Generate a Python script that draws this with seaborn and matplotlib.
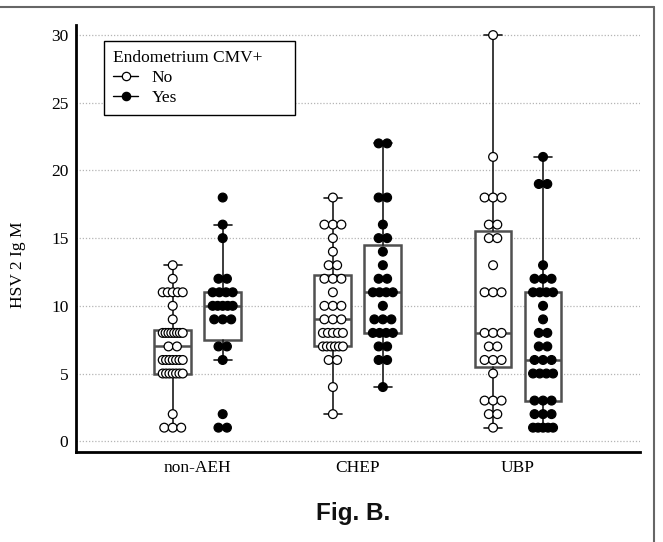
import numpy as np
import pandas as pd
import matplotlib.pyplot as plt
import seaborn as sns
from matplotlib.lines import Line2D

# ==========================================
# 1. Data (one value per dot)
# ==========================================
groups = ['non-AEH', 'CHEP', 'UBP']
cmv_levels = ['No', 'Yes']

nonaeh_no = [1, 1, 1, 2, 5, 5, 5, 5, 5, 5, 5, 6, 6, 6, 6, 6, 6, 6, 7, 7,
             8, 8, 8, 8, 8, 8, 8, 8, 9, 10, 11, 11, 11, 11, 11, 12, 13]
nonaeh_yes = [1, 1, 2, 6, 7, 7, 9, 9, 9, 10, 10, 10, 10, 10, 11, 11, 11, 11,
              12, 12, 15, 16, 18]
chep_no = [2, 4, 6, 6, 7, 7, 7, 7, 7, 7, 8, 8, 8, 8, 8, 9, 9, 9, 10, 10, 10,
           11, 12, 12, 12, 13, 13, 14, 15, 16, 16, 16, 18]
chep_yes = [4, 6, 6, 7, 7, 8, 8, 8, 8, 9, 9, 9, 10, 11, 11, 11, 11, 12, 12,
            13, 14, 15, 15, 16, 18, 18, 22, 22]
ubp_no = [1, 2, 2, 3, 3, 3, 5, 6, 6, 6, 7, 7, 8, 8, 8, 11, 11, 11, 13, 15, 15,
          16, 16, 18, 18, 18, 21, 30]
ubp_yes = [1, 1, 1, 1, 1, 2, 2, 2, 3, 3, 3, 5, 5, 5, 5, 6, 6, 6, 7, 7, 8, 8,
           9, 10, 11, 11, 11, 11, 12, 12, 12, 13, 19, 19, 21]

series = {
    ('non-AEH', 'No'): nonaeh_no, ('non-AEH', 'Yes'): nonaeh_yes,
    ('CHEP', 'No'): chep_no, ('CHEP', 'Yes'): chep_yes,
    ('UBP', 'No'): ubp_no, ('UBP', 'Yes'): ubp_yes,
}

rows = []
for (g, c), vals in series.items():
    for v in vals:
        rows.append({'group': g, 'cmv': c, 'value': v})
df = pd.DataFrame(rows)

# ==========================================
# 2. Layout settings
# ==========================================
hue_offset = {'No': -0.156, 'Yes': 0.156}
box_width = 0.23
dot_step = 0.053      # one dot diameter in x units
row_span = 0.125      # max spread of dots sharing a value

df['base'] = df['group'].map({g: i for i, g in enumerate(groups)}) + df['cmv'].map(hue_offset)
df['k'] = df.groupby(['group', 'cmv', 'value']).cumcount()
df['n'] = df.groupby(['group', 'cmv', 'value'])['value'].transform('size')

def dot_shift(k, n):
    if n < 2:
        return 0.0
    step = min(dot_step, row_span / (n - 1))
    return (k - (n - 1) / 2) * step

df['pos'] = df['base'] + [dot_shift(k, n) for k, n in zip(df['k'], df['n'])]

# quartiles like MedCalc (Hazen), Tukey whiskers
def box_stats(vals):
    v = np.asarray(vals, dtype=float)
    q1, med, q3 = np.percentile(v, [25, 50, 75], method='hazen')
    iqr = q3 - q1
    lo = v[v >= q1 - 1.5 * iqr].min()
    hi = v[v <= q3 + 1.5 * iqr].max()
    return {'med': med, 'q1': q1, 'q3': q3, 'whislo': lo, 'whishi': hi, 'fliers': []}

stats, positions = [], []
for i, g in enumerate(groups):
    for c in cmv_levels:
        stats.append(box_stats(series[(g, c)]))
        positions.append(i + hue_offset[c])

# ==========================================
# 3. Plot
# ==========================================
sns.set_style('white')
plt.rcParams['font.family'] = ['Liberation Serif', 'DejaVu Serif']
plt.rcParams.update({'text.color': 'black', 'axes.labelcolor': 'black',
                     'xtick.color': 'black', 'ytick.color': 'black'})

fig = plt.figure(figsize=(6.63, 5.42), dpi=100)
ax = fig.add_axes([0.1146, 0.166, 0.8504, 0.788])

ax.bxp(stats, positions=positions, widths=box_width, capwidths=0.11,
       patch_artist=True, showfliers=False,
       boxprops=dict(facecolor='white', edgecolor='#505050', linewidth=1.8),
       medianprops=dict(color='#505050', linewidth=1.8),
       whiskerprops=dict(color='#1a1a1a', linewidth=1.2),
       capprops=dict(color='#1a1a1a', linewidth=1.2),
       zorder=2)

sns.scatterplot(data=df, x='pos', y='value', hue='cmv', hue_order=cmv_levels,
                palette={'No': 'white', 'Yes': 'black'}, edgecolor='black',
                linewidth=0.9, s=40, legend=False, zorder=4, ax=ax)

ax.set_xlim(-0.76, 2.76)
ax.set_ylim(-0.8, 30.75)
ax.set_xticks(range(len(groups)))
ax.set_xticklabels(groups)
ax.set_yticks(range(0, 31, 5))
ax.set_xlabel('')
ax.set_ylabel('HSV 2 Ig M', fontsize=12.5)
ax.yaxis.set_label_coords(-0.088, 0.438)

ax.grid(axis='y', color='#b5b5b5', linestyle=(0, (1, 1.5)), linewidth=0.9)
ax.set_axisbelow(True)

for s in ['top', 'right']:
    ax.spines[s].set_visible(False)
for s in ['left', 'bottom']:
    ax.spines[s].set_linewidth(2.0)
    ax.spines[s].set_color('black')

ax.tick_params(axis='y', direction='in', length=6, width=1.6, pad=5.5, labelsize=12.5)
ax.tick_params(axis='x', direction='in', length=7, width=1.6, pad=6, labelsize=12.5)

handles = [Line2D([0], [0], color='black', lw=1, marker='o', markersize=6,
                  markerfacecolor=f, markeredgecolor='black', markeredgewidth=0.9)
           for f in ['white', 'black']]
leg = ax.legend(handles, cmv_levels, title='Endometrium CMV+', loc='upper left',
                bbox_to_anchor=(0.0496, 0.787, 0.3387, 0.1756), mode='expand',
                borderaxespad=0, fancybox=False,
                framealpha=1, edgecolor='black', fontsize=12.5, title_fontsize=12.5,
                handlelength=1.4, handletextpad=0.8, labelspacing=0.2,
                borderpad=0.55, alignment='left')
leg.get_frame().set_linewidth(1.0)

fig.text(0.532, 0.0535, 'Fig. B.', ha='center', va='center', fontsize=17.5,
         fontweight='bold', family='Liberation Sans', color='#111111')

# outer frame of the source image (top and right edges)
fig.add_artist(Line2D([0, 0.987], [0.987, 0.987], color='#666666', lw=1.5,
                      transform=fig.transFigure))
fig.add_artist(Line2D([0.987, 0.987], [0, 0.987], color='#666666', lw=1.5,
                      transform=fig.transFigure))

fig.savefig('out.png', dpi=100)
plt.close(fig)
